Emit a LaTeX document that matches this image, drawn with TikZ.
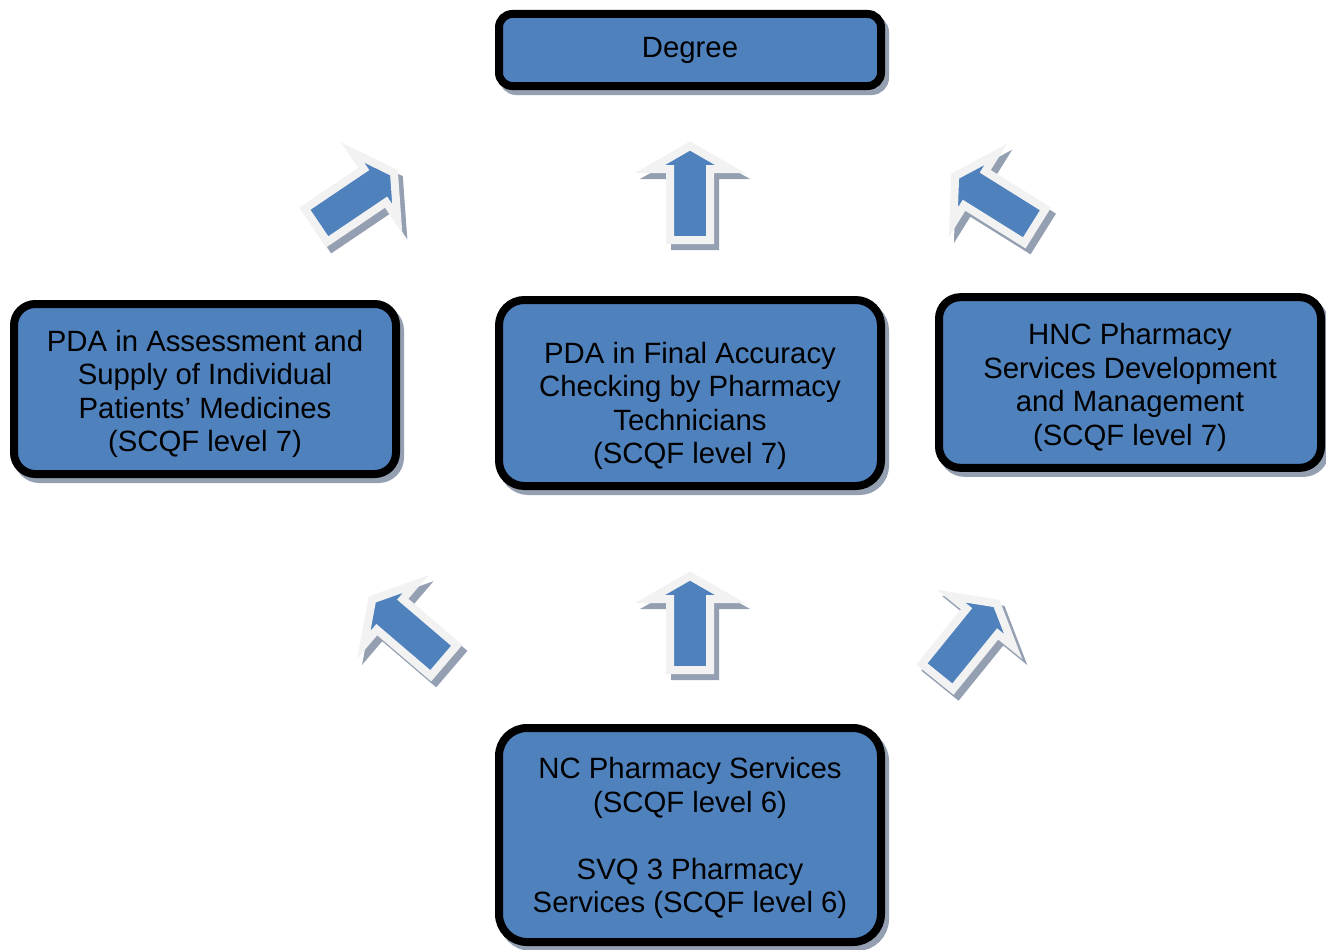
\documentclass[tikz,border=0pt]{standalone}
\usepackage{fontspec}
\setmainfont{Liberation Sans}
\usetikzlibrary{positioning}
\usetikzlibrary{calc}
\definecolor{officeblue}{RGB}{79,129,189}
\definecolor{arrowrim}{RGB}{242,242,242}
\definecolor{shadowgrey}{RGB}{148,160,178}

\newcommand\blockarrow[3]{%
  \filldraw[arrowshadow,shift={(#1+5,#2+6)},rotate=#3] (-20,47) -- (-20,-24) -- (-40,-24) -- (0,-47) -- (40,-24) -- (20,-24) -- (20,47) -- cycle;
  \filldraw[arrowbody,shift={(#1,#2)},rotate=#3] (-20,47) -- (-20,-24) -- (-40,-24) -- (0,-47) -- (40,-24) -- (20,-24) -- (20,47) -- cycle;}

\begin{document}
\begin{tikzpicture}[x=0.75pt,y=-0.75pt,
    box/.style={draw=black,fill=officeblue,line width=6pt,rounded corners=16pt,
      outer sep=0pt,minimum width=286.5pt,
      preaction={draw=shadowgrey,transform canvas={xshift=3pt,yshift=-3.75pt}}},
    boxtext/.style={align=center,font=\fontsize{22}{25.2}\selectfont},
    arrowshadow/.style={fill=shadowgrey,draw=shadowgrey,line width=6pt},
    arrowbody/.style={fill=officeblue,draw=arrowrim,line width=6pt}]
  \useasboundingbox (0,0) rectangle (1326,949);

  \node[box,minimum height=54pt,rounded corners=10pt] (degree) at (690,50)  {};
  \node[box,minimum height=127.5pt] (pdaasp) at (205,389) {};
  \node[box,minimum height=139.5pt,rounded corners=19pt] (pdafac) at (690,393) {};
  \node[box,minimum height=128pt]   (hncpsd) at (1130,382.5) {};
  \node[box,minimum height=160.5pt,rounded corners=21pt] (ncsvq)  at (690,835) {};

  \node[boxtext] (degreetext) at (degree.center) {Degree};
  \node[boxtext] (pdaasptext) at ($(pdaasp.center)+(0,5)$) {PDA in Assessment and\\Supply of Individual\\Patients’ Medicines\\(SCQF level 7)};
  \node[boxtext] (pdafactext) at ($(pdafac.center)+(0,13)$) {PDA in Final Accuracy\\Checking by Pharmacy\\Technicians\\(SCQF level 7)};
  \node[boxtext] (hncpsdtext) at ($(hncpsd.center)+(0,5)$) {HNC Pharmacy\\Services Development\\and Management\\(SCQF level 7)};
  \node[boxtext] (ncsvqtext)  at ($(ncsvq.center)+(0,3)$) {NC Pharmacy Services\\(SCQF level 6)\\[25.2pt]SVQ 3 Pharmacy\\Services (SCQF level 6)};

  \blockarrow{355}{199}{-56}
  \blockarrow{690}{193}{0}
  \blockarrow{995}{201}{58}
  \blockarrow{408}{630}{49.5}
  \blockarrow{690}{623}{0}
  \blockarrow{967}{640}{-39}
\end{tikzpicture}
\end{document}
